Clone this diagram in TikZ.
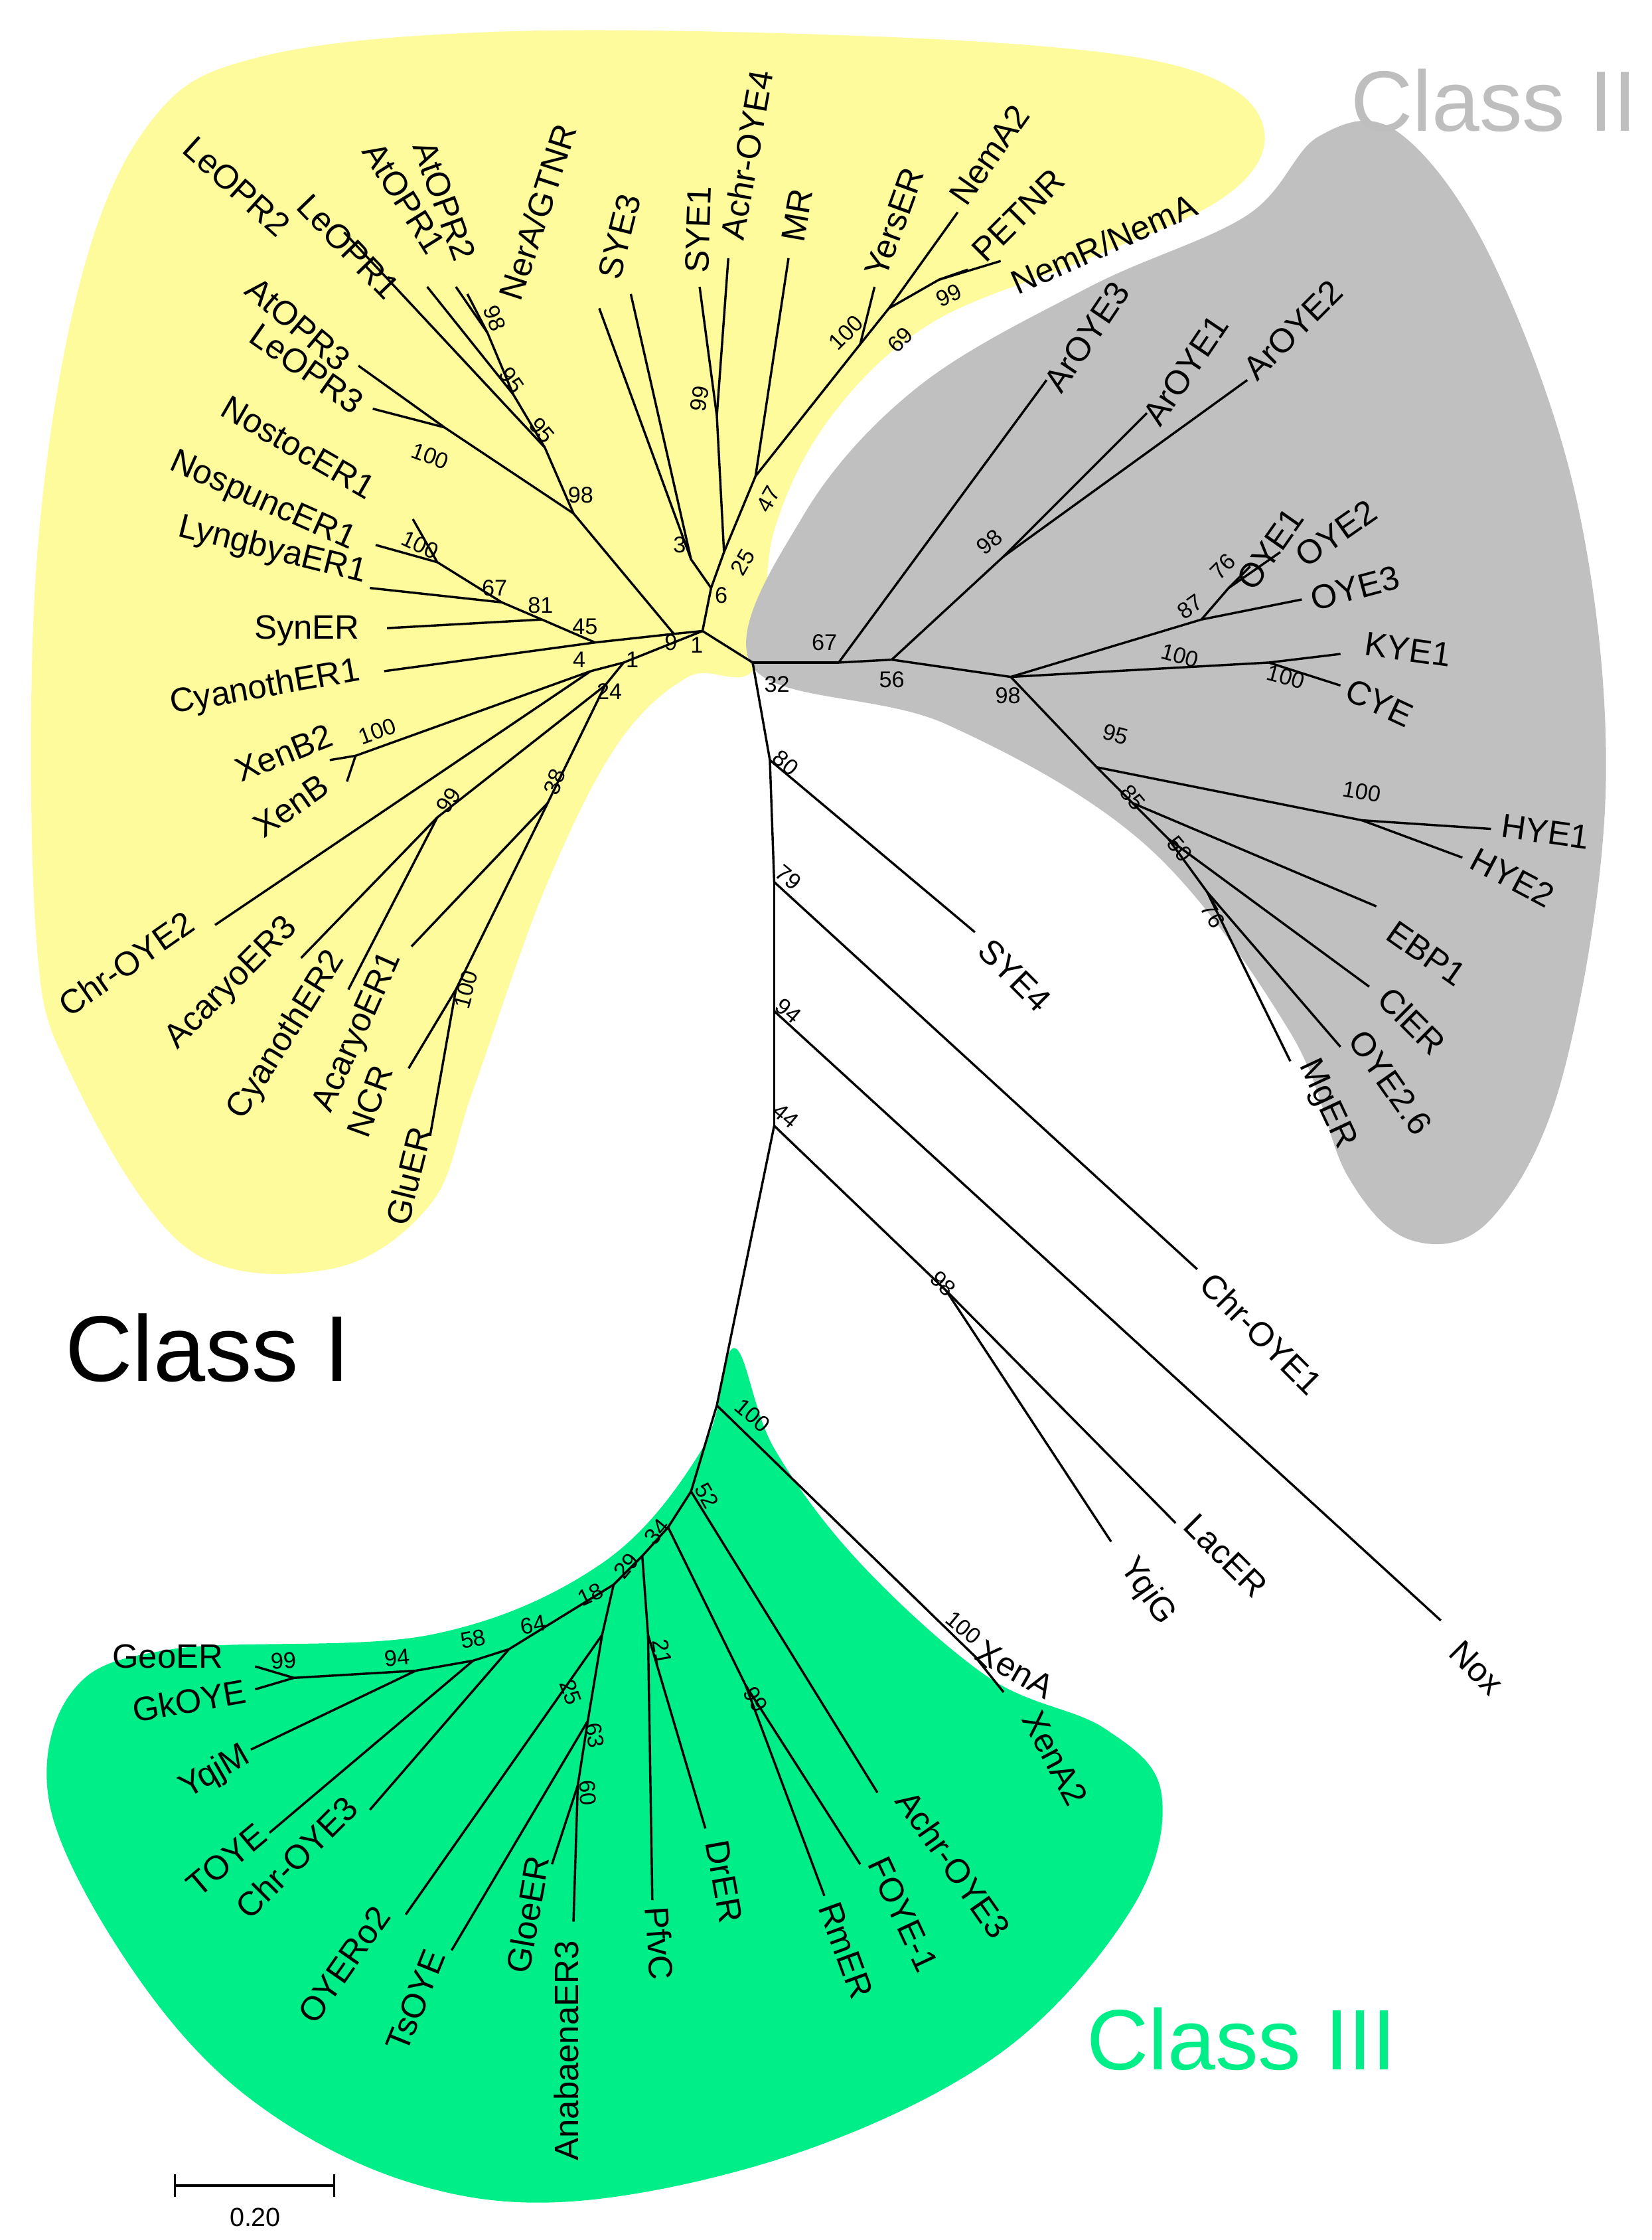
\documentclass[tikz,border=0pt]{standalone}
\usepackage{fontspec}
\setmainfont{Liberation Sans}
\definecolor{cyel}{RGB}{253,251,155}
\definecolor{cgry}{RGB}{192,192,192}
\definecolor{cgrn}{RGB}{0,238,136}
\definecolor{cgtx}{RGB}{190,190,190}
\begin{document}
\begin{tikzpicture}[x=0.01cm,y=-0.01cm,
 br/.style={line width=0.45pt},
 lf/.style={font=\fontsize{6.7}{8}\selectfont,inner sep=0pt},
 bs/.style={font=\fontsize{4.5}{5}\selectfont,inner sep=0pt}]
\useasboundingbox (0,0) rectangle (1152,1562);
% backgrounds
\fill[cyel] plot[smooth cycle,tension=0.6] coordinates{(527,465)(540,370)(580,290)(650,225)(760,180)(850,140)(882,100)(860,62)(780,38)(600,25)(350,22)(180,40)(105,85)(55,200)(25,400)(25,650)(50,750)(130,870)(230,885)(300,840)(330,760)(380,620)(430,520)(480,472)};
\fill[cgry] plot[smooth cycle,tension=0.6] coordinates{(525,465)(560,360)(640,270)(760,200)(870,150)(920,95)(975,92)(1040,180)(1100,350)(1120,550)(1090,750)(1040,850)(985,865)(940,820)(900,720)(800,590)(660,505)};
\fill[cgrn] plot[smooth cycle,tension=0.6] coordinates{(512,940)(490,1010)(420,1090)(300,1140)(120,1150)(50,1180)(35,1260)(90,1370)(170,1460)(280,1520)(400,1535)(560,1500)(700,1430)(790,1330)(810,1250)(770,1205)(690,1170)(600,1090)(540,1010)};
% coordinates
\foreach \n/\x/\y in {R/525/462,A/585/462,B/622/460,C/700/388,D/705/472,E/838/432,F/857/410,G/885/462,I/765/535,J/950/572,K/790/560,L/815/585,M/842/622,
 tArOYE3/730/265,tArOYE1/800/288,tArOYE2/870/265,tOYE1/872/395,tOYE2/893/385,tOYE3/908/418,tKYE1/935/456,tCYE/935/478,tHYE1/1040/578,tHYE2/1020/598,tEBP1/960/632,tClER/955/688,tOYE26/935/730,tMgER/900/740,
 T1/537/530,T2/540/615,T3/540/705,T4/540/785,U/660/900,tSYE4/680/650,tChrOYE1/835/885,tNox/1005/1130,tLacER/820/1062,tYqiG/775/1075,
 N1/500/980,X/680/1155,tXenA/688/1163,tXenA2/700/1180,N2/482/1040,tAchrOYE3/612/1250,N3/466/1065,Y/520/1175,tFOYE/600/1300,tRmER/575/1322,
 N4/448/1085,Z/452/1140,tDrER/492/1275,tPfvC/455/1325,N5/428/1105,P0/355/1150,tChrOYE3/258/1262,P1/330/1158,tTOYE/188/1278,P2/290/1165,tYqjM/175/1220,P3/205/1170,tGeoER/178/1162,tGkOYE/178/1178,
 V/420/1140,tOYERo2/283/1335,W/410/1200,tTsOYE/315/1360,W2/403/1245,tGloeER/385/1300,tAnab/400/1340,
 Q1/490/440,Q2/496/410,Q3/505/385,Q4/527/332,Q5/600/240,Q6/620/215,Q7/655/195,tYersER/610/200,tNemA2/668/148,tPETNR/675/188,tNemR/698/182,tMR/550/180,
 Q8/500/290,tSYE1/488/200,tAchrOYE4/508/180,Q9/482/390,tSYE3/440/205,tNerA/418/215,
 Q10/470/442,Q11/400/358,Q12/380/312,Q13/358/275,Q14/340/232,tAtOPR1/318/200,tAtOPR2/326/205,tLeOPR1/298/200,tLeOPR2/240/162,Q15/310/298,tAtOPR3/250/255,tLeOPR3/260/285,
 Q16/415/448,Q17/378/432,Q18/350/420,Q19/305/392,tNostoc/288/362,tNospunc/262/380,tLyngbya/258/410,tSynER/270/438,tCyanoth1/268/468,
 Q20/435/462,Q21/412/468,XB/248/527,tXenB2/230/530,tXenB/242/545,tChrOYE2/150/645,Q22/422/478,Q23/305/570,tAcaryo3/210/668,tCyanoth2/243/690,Q24/382/560,tAcaryo1/287/660,Q25/318/690,tNCR/285/745,tGluER/300/792}
 {\coordinate (\n) at (\x,\y);}
% edges
\foreach \a/\b in {R/A,A/tArOYE3,A/B,B/C,C/tArOYE1,C/tArOYE2,B/D,D/E,E/F,F/tOYE1,F/tOYE2,E/tOYE3,D/G,G/tKYE1,G/tCYE,D/I,I/J,J/tHYE1,J/tHYE2,I/K,K/tEBP1,K/L,L/tClER,L/M,M/tOYE26,M/tMgER,
 R/T1,T1/tSYE4,T1/T2,T2/tChrOYE1,T2/T3,T3/tNox,T3/T4,T4/U,U/tLacER,U/tYqiG,T4/N1,
 N1/X,X/tXenA,X/tXenA2,N1/N2,N2/tAchrOYE3,N2/N3,N3/Y,Y/tFOYE,Y/tRmER,N3/N4,N4/Z,Z/tDrER,Z/tPfvC,N4/N5,N5/P0,P0/tChrOYE3,P0/P1,P1/tTOYE,P1/P2,P2/tYqjM,P2/P3,P3/tGeoER,P3/tGkOYE,
 N5/V,V/tOYERo2,V/W,W/tTsOYE,W/W2,W2/tGloeER,W2/tAnab,
 R/Q1,Q1/Q2,Q2/Q3,Q3/Q4,Q4/Q5,Q5/tYersER,Q5/Q6,Q6/tNemA2,Q6/Q7,Q7/tPETNR,Q7/tNemR,Q4/tMR,Q3/Q8,Q8/tSYE1,Q8/tAchrOYE4,Q2/Q9,Q9/tSYE3,Q9/tNerA,
 Q1/Q10,Q10/Q11,Q11/Q12,Q12/Q13,Q13/Q14,Q14/tAtOPR1,Q14/tAtOPR2,Q13/tLeOPR1,Q12/tLeOPR2,Q11/Q15,Q15/tAtOPR3,Q15/tLeOPR3,
 Q10/Q16,Q16/Q17,Q17/Q18,Q18/Q19,Q19/tNostoc,Q19/tNospunc,Q18/tLyngbya,Q17/tSynER,Q16/tCyanoth1,
 Q1/Q20,Q20/Q21,Q21/XB,XB/tXenB2,XB/tXenB,Q21/tChrOYE2,Q20/Q22,Q22/Q23,Q23/tAcaryo3,Q23/tCyanoth2,Q22/Q24,Q24/tAcaryo1,Q24/Q25,Q25/tNCR,Q25/tGluER}
 {\draw[br] (\a) -- (\b);}
% leaf labels
\foreach \t/\x/\y/\r [count=\i] in {LeOPR2/165/130/-42,LeOPR1/243/172/-46,AtOPR1/282/138/-58,AtOPR2/310/140/-70,{NerA/GTNR}/375/148/72,SYE3/432/165/76,SYE1/487/160/88,Achr-OYE4/521/108/80,MR/556/150/80,YersER/624/155/70,NemA2/690/108/55,PETNR/710/150/45,{NemR/NemA}/770/170/24,
 AtOPR3/208/226/-40,LeOPR3/214/257/-35,NostocER1/208/312/-30,NospuncER1/183/350/-24,LyngbyaER1/190/384/-14,SynER/214/440/0,CyanothER1/185/480/10,XenB2/198/525/22,XenB/203/562/35,Chr-OYE2/88/672/35,AcaryoER3/162/686/45,CyanothER2/200/722/58,AcaryoER1/250/720/66,NCR/258/768/70,GluER/285/820/76,
 ArOYE3/758/235/56,ArOYE1/827/258/56,ArOYE2/902/230/45,OYE1/886/383/55,OYE2/932/372/35,OYE3/945/410/15,KYE1/982/453/-8,CYE/962/490/-25,HYE1/1078/580/-8,HYE2/1055/612/-28,EBP1/995/665/-35,ClER/985/712/-45,OYE2.6/970/755/-55,MgER/925/770/-65,
 SYE4/708/680/-45,Chr-OYE1/880/930/-45,LacER/855/1085/-45,YqiG/800/1110/-55,Nox/1030/1163/-45,
 XenA/708/1164/-30,XenA2/736/1226/-62,Achr-OYE3/665/1300/-55,FOYE-1/630/1335/-65,RmER/590/1360/-70,DrER/505/1312/-80,PfvC/460/1355/-86,AnabaenaER3/395/1430/90,GloeER/368/1335/80,TsOYE/290/1395/68,OYERo2/240/1370/55,Chr-OYE3/207/1295/45,TOYE/158/1297/40,YqjM/150/1236/30,GkOYE/132/1186/10,GeoER/117/1155/0}
 {\node[lf,rotate=\r] (lab\i) at (\x,\y) {\t};}
% bootstrap
\foreach \t/\x/\y/\r [count=\i] in {67/575/448/0,56/622/474/0,98/690/378/40,98/703/485/0,87/830/423/35,76/853/395/45,100/823/457/-15,100/897/472/-15,95/778/512/-15,100/950/552/-10,85/790/556/-50,50/823/592/-50,76/846/638/-60,32/542/477/0,
 80/548/532/-40,79/550/612/-40,94/550/705/-40,44/548/778/-40,98/658/895/-45,
 100/525/987/-40,100/672/1135/-40,52/493/1043/-60,34/458/1068/50,99/527/1185/-60,29/437/1092/50,21/462/1152/-80,18/412/1112/25,64/372/1133/10,58/330/1143/10,94/277/1156/5,99/198/1158/5,25/398/1180/-70,63/415/1210/-80,60/410/1250/-85,
 1/486/450/0,6/503/415/0,25/518/392/60,47/536/348/60,100/590/232/45,69/628/237/45,99/662/206/25,99/488/278/80,3/474/380/0,9/468/448/0,
 98/405/345/0,95/378/300/-50,95/357/265/-55,98/345/222/-70,100/300/318/-20,
 45/408/437/0,81/377/422/0,67/345/410/0,100/293/380/-25,
 1/441/460/0,4/404/460/0,100/263/510/20,24/425/482/0,99/313/558/55,38/387/545/70,100/325/690/75}
 {\node[bs,rotate=\r] (b\i) at (\x,\y) {\t};}
% class labels
\node[font=\fontsize{18.5}{22}\selectfont,inner sep=0pt] (c1) at (145,940) {Class I};
\node[font=\fontsize{17}{20}\selectfont,inner sep=0pt,text=cgtx] (c2) at (1042,70) {Class II};
\node[font=\fontsize{17}{20}\selectfont,inner sep=0pt,text=cgrn] (c3) at (866,1422) {Class III};
% scale bar
\coordinate (s1) at (122,1524); \coordinate (s2) at (233,1524);
\coordinate (s1a) at (122,1516); \coordinate (s1b) at (122,1532);
\coordinate (s2a) at (233,1516); \coordinate (s2b) at (233,1532);
\draw[br] (s1) -- (s2);
\draw[br] (s1a) -- (s1b); \draw[br] (s2a) -- (s2b);
\node[bs,font=\fontsize{5.2}{6}\selectfont] (sl) at (178,1546) {0.20};
\end{tikzpicture}
\end{document}
